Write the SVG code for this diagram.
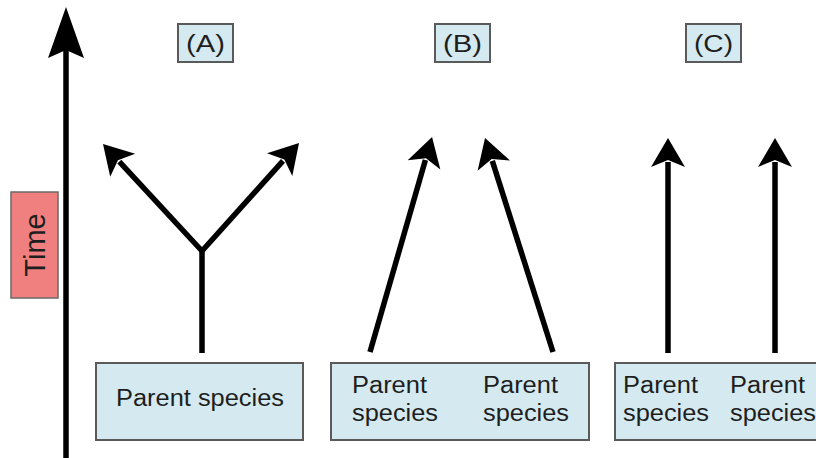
<svg xmlns="http://www.w3.org/2000/svg" width="816" height="458" viewBox="0 0 816 458">
<defs>
<style>
.box{fill:#d5eaf0;stroke:#5a5a5a;stroke-width:2}
.lbl{font-family:"Liberation Sans",Arial,sans-serif;font-size:23px;fill:#1e1e1e}
.ln{stroke:#000;stroke-width:5.5;fill:none}
</style>
<marker id="ah" markerUnits="userSpaceOnUse" viewBox="-8 -20 40 40" markerWidth="40" markerHeight="40" refX="0" refY="0" orient="auto">
<path d="M24,0 L-5,-17 L2,0 L-5,17 Z" fill="#000"/>
</marker>
<marker id="ahbig" markerUnits="userSpaceOnUse" viewBox="-10 -22 60 44" markerWidth="60" markerHeight="44" refX="0" refY="0" orient="auto">
<path d="M43,0 L-8,-18 L0,0 L-8,18 Z" fill="#000"/>
</marker>
</defs>
<g id="connectors">
<line class="ln" x1="66" y1="458" x2="66" y2="50" marker-end="url(#ahbig)"/>
<line class="ln" x1="202" y1="353" x2="202" y2="249"/>
<line class="ln" x1="202" y1="251" x2="119.3" y2="161.6" marker-end="url(#ah)"/>
<line class="ln" x1="202" y1="251" x2="283" y2="160.9" marker-end="url(#ah)"/>
<line class="ln" x1="370" y1="352" x2="425.4" y2="160.1" marker-end="url(#ah)"/>
<line class="ln" x1="553" y1="352" x2="492.3" y2="160.9" marker-end="url(#ah)"/>
<line class="ln" x1="668" y1="353" x2="668" y2="162" marker-end="url(#ah)"/>
<line class="ln" x1="775" y1="353" x2="775" y2="162" marker-end="url(#ah)"/>
</g>
<g id="time">
<rect x="11" y="192" width="47" height="106" fill="#f08080" stroke="#6a6a6a" stroke-width="1.5"/>
<text class="lbl" text-anchor="middle" transform="translate(45,245) rotate(-90)" style="font-size:29px">Time</text>
</g>
<g id="labelA">
<rect class="box" x="178" y="24" width="55" height="38"/>
<text class="lbl" x="186" y="52" textLength="39" lengthAdjust="spacingAndGlyphs">(A)</text>
</g>
<g id="labelB">
<rect class="box" x="435" y="24" width="55" height="38"/>
<text class="lbl" x="443" y="52" textLength="39" lengthAdjust="spacingAndGlyphs">(B)</text>
</g>
<g id="labelC">
<rect class="box" x="686" y="24" width="55" height="38"/>
<text class="lbl" x="694" y="52" textLength="39" lengthAdjust="spacingAndGlyphs">(C)</text>
</g>
<g id="parentA">
<rect class="box" x="96" y="363" width="207" height="77"/>
<text class="lbl" x="116" y="406" textLength="168" lengthAdjust="spacingAndGlyphs">Parent species</text>
</g>
<g id="parentB">
<rect class="box" x="331" y="363" width="258" height="77"/>
<text class="lbl" x="352" y="393" textLength="75" lengthAdjust="spacingAndGlyphs">Parent</text>
<text class="lbl" x="352" y="421" textLength="86" lengthAdjust="spacingAndGlyphs">species</text>
<text class="lbl" x="483" y="393" textLength="75" lengthAdjust="spacingAndGlyphs">Parent</text>
<text class="lbl" x="483" y="421" textLength="86" lengthAdjust="spacingAndGlyphs">species</text>
</g>
<g id="parentC">
<rect class="box" x="615" y="363" width="215" height="77"/>
<text class="lbl" x="623" y="393" textLength="75" lengthAdjust="spacingAndGlyphs">Parent</text>
<text class="lbl" x="623" y="421" textLength="86" lengthAdjust="spacingAndGlyphs">species</text>
<text class="lbl" x="730" y="393" textLength="75" lengthAdjust="spacingAndGlyphs">Parent</text>
<text class="lbl" x="730" y="421" textLength="86" lengthAdjust="spacingAndGlyphs">species</text>
</g>
</svg>
